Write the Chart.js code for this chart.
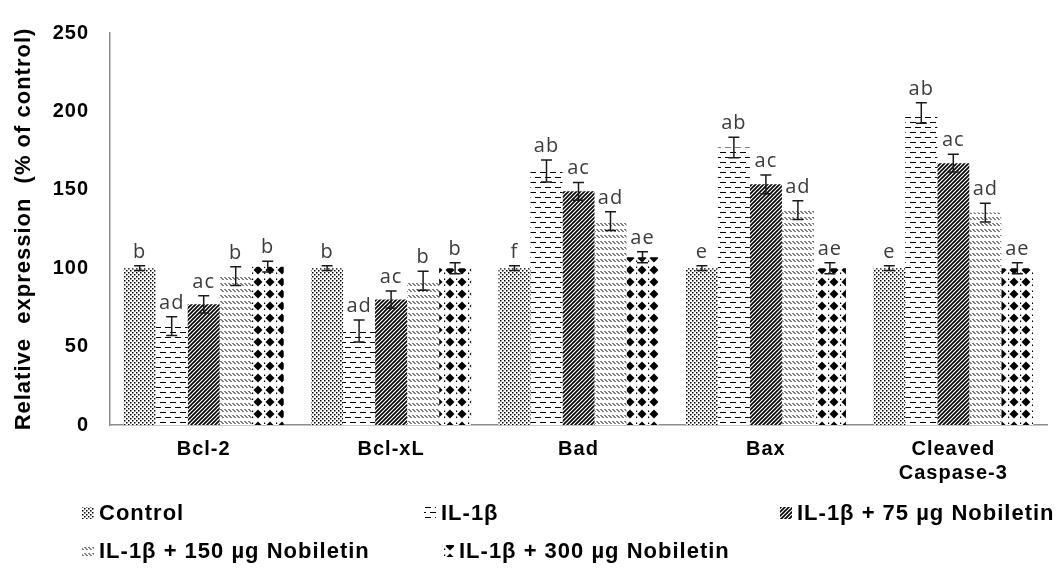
<!DOCTYPE html>
<html>
<head>
<meta charset="utf-8">
<script src="https://cdn.jsdelivr.net/npm/chart.js@4.4.0/dist/chart.umd.min.js"></script>
<style>
  html, body { margin: 0; padding: 0; background: #fff; }
</style>
</head>
<body>
<canvas id="expression-chart" width="1060" height="568"></canvas>
<script>
// values (bar height and +/- error)
const categories = ["Bcl-2", "Bcl-xL", "Bad", "Bax", ["Cleaved", "Caspase-3"]];
const seriesNames = ["Control", "IL-1β", "IL-1β + 75 µg Nobiletin", "IL-1β + 150 µg Nobiletin", "IL-1β + 300 µg Nobiletin"];

const controlValues = [100, 100, 100, 100, 100];
const il1bValues = [63, 60, 162, 177, 199];
const nob75Values = [77, 80, 149, 153.5, 167];
const nob150Values = [95, 92, 130, 137, 135.5];
const nob300Values = [101, 100, 107, 100, 100];

const controlErrors = [1.5, 1.5, 1.5, 1.5, 1.5];
const il1bErrors = [6, 7, 7, 6.5, 6.5];
const nob75Errors = [5.5, 5.5, 5.7, 6, 5.7];
const nob150Errors = [6, 6, 6, 6, 6];
const nob300Errors = [3.5, 3.5, 3.5, 3.5, 3.5];

// significance letters above each bar
const controlLetters = ["b", "b", "f", "e", "e"];
const il1bLetters = ["ad", "ad", "ab", "ab", "ab"];
const nob75Letters = ["ac", "ac", "ac", "ac", "ac"];
const nob150Letters = ["b", "b", "ad", "ad", "ad"];
const nob300Letters = ["b", "b", "ae", "ae", "ae"];

const yTicks = [0, 50, 100, 150, 200, 250];
const yTitle = "Relative  expression  (% of control)";

const sans = "'Liberation Sans', Arial, sans-serif";
const ctx = document.getElementById("expression-chart").getContext("2d");

// black & white fill patterns like the Excel original
function tile(w, h, draw) {
    const c = document.createElement("canvas");
    c.width = w;
    c.height = h;
    const g = c.getContext("2d");
    g.fillStyle = "#fff";
    g.fillRect(0, 0, w, h);
    g.fillStyle = "#000";
    g.strokeStyle = "#000";
    draw(g);
    return ctx.createPattern(c, "repeat");
}

const patterns = [
    // fine dots
    tile(4, 4, (g) => {
        g.fillRect(0, 0, 1.5, 1.5);
        g.fillRect(2, 2, 1.5, 1.5);
    }),
    // staggered horizontal dashes
    tile(10, 10, (g) => {
        g.fillRect(0, 2, 6, 1);
        g.fillRect(5, 7, 5, 1);
        g.fillRect(0, 7, 1, 1);
    }),
    // dense forward diagonals
    tile(4, 4, (g) => {
        g.lineWidth = 1.6;
        g.beginPath();
        g.moveTo(0, 4); g.lineTo(4, 0);
        g.moveTo(-1, 1); g.lineTo(1, -1);
        g.moveTo(3, 5); g.lineTo(5, 3);
        g.stroke();
    }),
    // short back-slash dashes in rows
    tile(4, 6, (g) => {
        g.lineWidth = 1;
        g.beginPath();
        g.moveTo(0.5, 1); g.lineTo(3.5, 4);
        g.stroke();
    }),
    // solid diamonds with small dots
    tile(12, 12, (g) => {
        g.beginPath();
        g.moveTo(6, 1.5); g.lineTo(10.5, 6); g.lineTo(6, 10.5); g.lineTo(1.5, 6);
        g.closePath();
        g.fill();
        g.fillRect(0, 2.5, 1.2, 1.5);
        g.fillRect(0, 8.5, 1.2, 1.5);
    }),
];

const seriesValues = [controlValues, il1bValues, nob75Values, nob150Values, nob300Values];
const seriesErrors = [controlErrors, il1bErrors, nob75Errors, nob150Errors, nob300Errors];
const seriesLetters = [controlLetters, il1bLetters, nob75Letters, nob150Letters, nob300Letters];

// legend is laid out like the original: 3 items on row one, 2 on row two
const legendSlots = [
    { x: 82, y: 513 }, { x: 424, y: 513 }, { x: 780, y: 513 },
    { x: 82, y: 551 }, { x: 442, y: 551 },
];

const spacingPlugin = {
    id: "spacing",
    beforeUpdate(chart) { chart.ctx.letterSpacing = "1px"; },
    beforeDraw(chart) { chart.ctx.letterSpacing = "1px"; },
};

const errorBarPlugin = {
    id: "errorBars",
    afterDatasetsDraw(chart) {
        const c = chart.ctx;
        const y = chart.scales.y;
        c.save();
        chart.data.datasets.forEach((ds, i) => {
            const meta = chart.getDatasetMeta(i);
            meta.data.forEach((bar, j) => {
                const v = seriesValues[i][j];
                const e = seriesErrors[i][j];
                const top = y.getPixelForValue(v + e);
                const bottom = y.getPixelForValue(v - e);
                c.strokeStyle = "#1a1a1a";
                c.lineWidth = 1.5;
                c.beginPath();
                c.moveTo(bar.x, top); c.lineTo(bar.x, bottom);
                c.moveTo(bar.x - 5.5, top); c.lineTo(bar.x + 5.5, top);
                c.moveTo(bar.x - 5.5, bottom); c.lineTo(bar.x + 5.5, bottom);
                c.stroke();

                c.fillStyle = "#3c3c3c";
                c.font = "20px 'Open Sans', sans-serif";
                c.textAlign = "center";
                c.textBaseline = "alphabetic";
                c.fillText(seriesLetters[i][j], bar.x, top - 8);
            });
        });
        c.restore();
    },
};

const legendPlugin = {
    id: "patternLegend",
    afterDraw(chart) {
        const c = chart.ctx;
        c.save();
        seriesNames.forEach((name, i) => {
            const s = legendSlots[i];
            c.fillStyle = patterns[i];
            c.fillRect(s.x, s.y - 6, 12, 12);
            c.fillStyle = "#000";
            c.font = "bold 22px " + sans;
            c.textAlign = "left";
            c.textBaseline = "middle";
            c.fillText(name, s.x + 17, s.y + 1);
        });
        c.restore();
    },
};

const chart = new Chart(ctx, {
    type: "bar",
    data: {
        labels: categories,
        datasets: seriesNames.map((name, i) => ({
            label: name,
            data: seriesValues[i],
            backgroundColor: patterns[i],
            borderWidth: 0,
            barPercentage: 1.0,
            categoryPercentage: 0.854,
        })),
    },
    options: {
        responsive: false,
        devicePixelRatio: 1,
        animation: false,
        layout: { padding: { top: 22, right: 13, bottom: 0, left: 0 } },
        plugins: {
            legend: { display: false },
            tooltip: { enabled: false },
        },
        scales: {
            x: {
                grid: { display: false, drawTicks: false },
                border: { color: "#8c8c8c", width: 1.5 },
                ticks: {
                    color: "#000",
                    font: { family: sans, size: 20, weight: "bold" },
                    padding: 12,
                    maxRotation: 0,
                    autoSkip: false,
                },
                afterFit: (scale) => { scale.height = 143; },
            },
            y: {
                min: 0,
                max: 250,
                grid: { display: false, drawTicks: false },
                border: { color: "#8c8c8c", width: 1.5 },
                afterBuildTicks: (scale) => { scale.ticks = yTicks.map((v) => ({ value: v })); },
                ticks: {
                    color: "#000",
                    font: { family: sans, size: 20, weight: "bold" },
                    padding: 21,
                },
                title: {
                    display: true,
                    text: yTitle,
                    color: "#000",
                    font: { family: sans, size: 22, weight: "bold" },
                    padding: { top: 11, bottom: 0 },
                },
                afterFit: (scale) => { scale.width = 110; },
            },
        },
    },
    plugins: [spacingPlugin, errorBarPlugin, legendPlugin],
});
</script>
</body>
</html>
